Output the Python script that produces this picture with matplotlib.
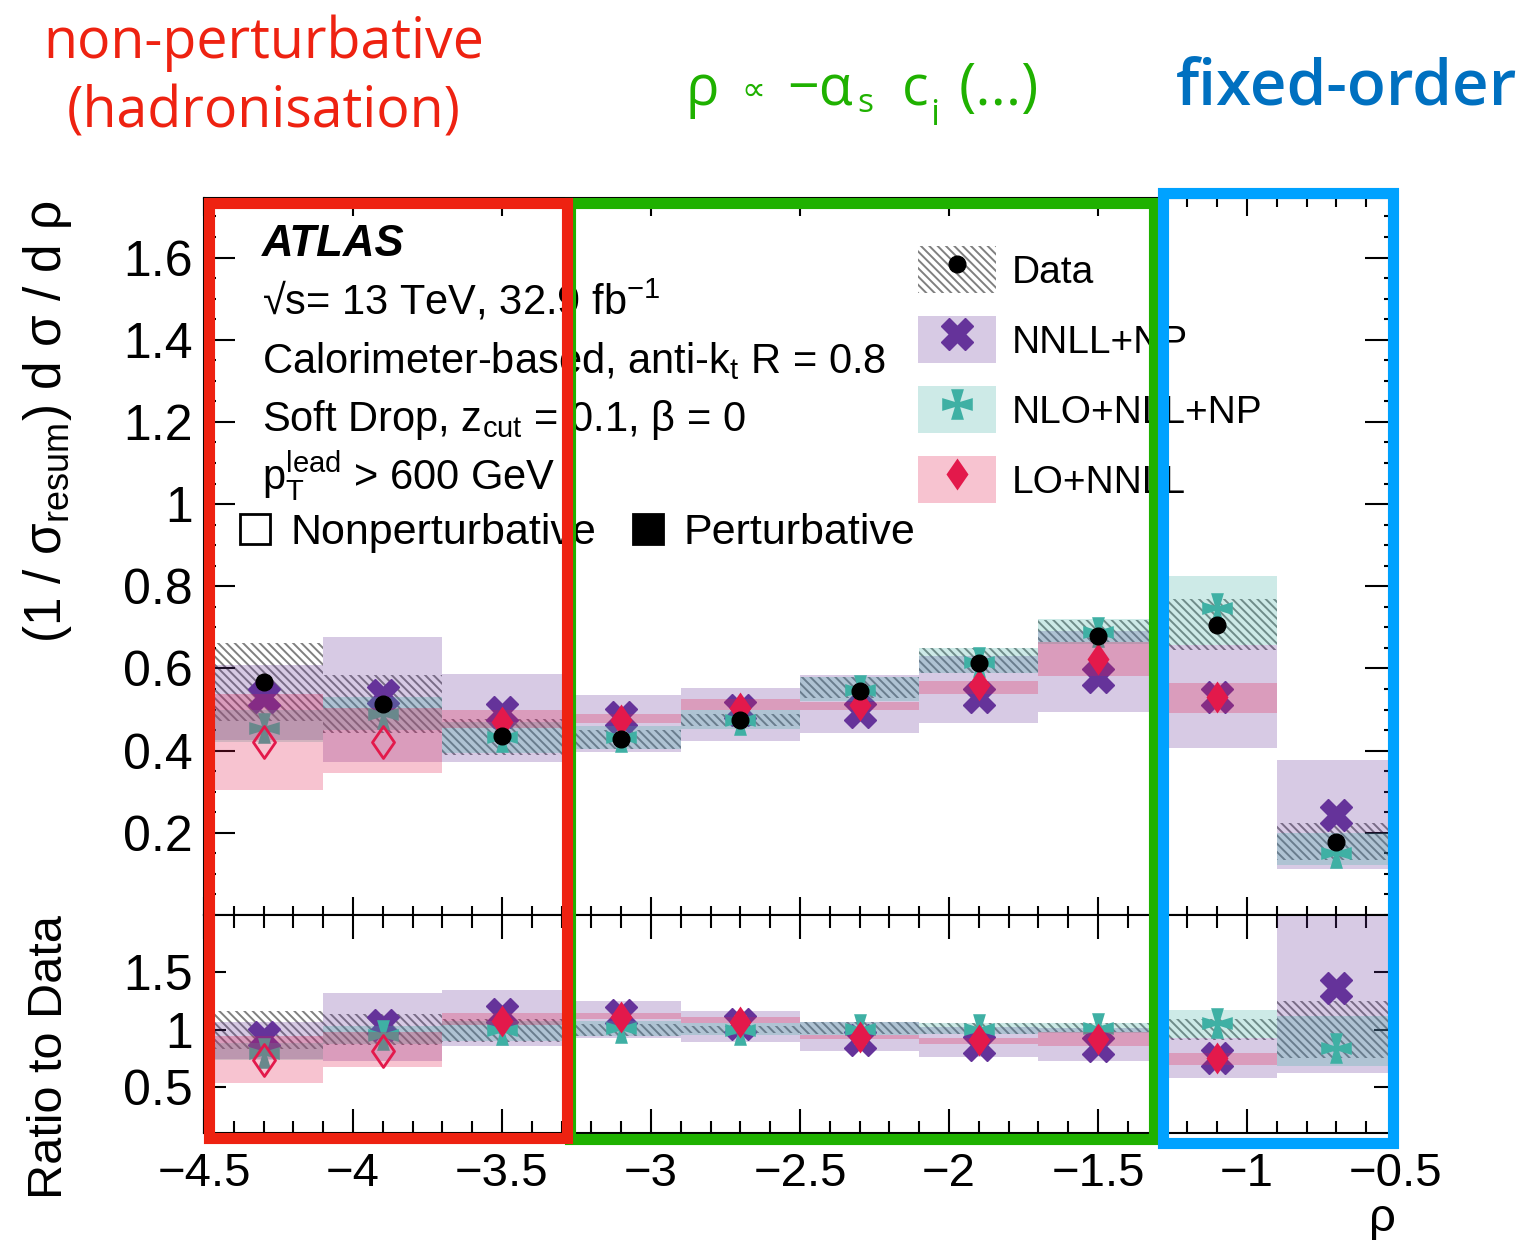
import numpy as np
import matplotlib
matplotlib.use('Agg')
import matplotlib.pyplot as plt
from matplotlib.patches import Patch, Rectangle
from matplotlib.lines import Line2D
from matplotlib.path import Path
from matplotlib.ticker import MultipleLocator, FuncFormatter

plt.rcParams['font.family'] = ['Liberation Sans', 'DejaVu Sans']
plt.rcParams['mathtext.fontset'] = 'custom'
plt.rcParams['mathtext.rm'] = 'Liberation Sans'
plt.rcParams['mathtext.it'] = 'Liberation Sans:italic'
plt.rcParams['mathtext.bf'] = 'Liberation Sans:bold'
plt.rcParams['hatch.linewidth'] = 1.4

# rho bins and measured / predicted (1/sigma) dsigma/drho
edges = [-4.5, -4.1, -3.7, -3.3, -2.9, -2.5, -2.1, -1.7, -1.3, -0.9, -0.5]

data    = [0.568, 0.513, 0.436, 0.428, 0.474, 0.545, 0.614, 0.679, 0.706, 0.178]
data_lo = [0.473, 0.443, 0.390, 0.405, 0.460, 0.527, 0.589, 0.665, 0.645, 0.134]
data_hi = [0.663, 0.584, 0.478, 0.450, 0.488, 0.580, 0.649, 0.718, 0.770, 0.223]

nnll    = [0.530, 0.535, 0.495, 0.482, 0.499, 0.495, 0.531, 0.580, 0.530, 0.243]
nnll_lo = [0.425, 0.373, 0.373, 0.397, 0.424, 0.444, 0.468, 0.495, 0.406, 0.111]
nnll_hi = [0.608, 0.676, 0.586, 0.535, 0.552, 0.584, 0.630, 0.690, 0.657, 0.377]

nlo    = [0.455, 0.490, 0.434, 0.434, 0.474, 0.547, 0.616, 0.689, 0.746, 0.150]
nlo_lo = [0.420, 0.450, 0.395, 0.405, 0.452, 0.520, 0.590, 0.660, 0.657, 0.122]
nlo_hi = [0.500, 0.530, 0.470, 0.460, 0.500, 0.580, 0.650, 0.720, 0.825, 0.200]

lo    = [0.420, 0.420, 0.470, 0.474, 0.505, 0.511, 0.560, 0.624, 0.530, np.nan]
lo_lo = [0.304, 0.345, 0.455, 0.468, 0.500, 0.499, 0.539, 0.582, 0.492, np.nan]
lo_hi = [0.539, 0.505, 0.500, 0.490, 0.525, 0.518, 0.570, 0.665, 0.565, np.nan]

# bins where LO+NNLL has no hadronisation correction (open markers)
nonpert = [True, True, False, False, False, False, False, False, False, False]

purple = '#65339a'
teal = '#3fb0a4'
crimson = '#e3194b'
hatch_grey = '#808080'
hatch = '\\\\\\\\'
band_alpha = 0.26

W, H = 1527, 1240


def fx(px):
    return px / W


def fy(py):
    return 1 - py / H


# ROOT-like "open cross" marker: four arms widening outwards
a, c = 0.42, 0.17
star = Path([(-a, 1), (a, 1), (c, c), (1, a), (1, -a), (c, -c), (a, -1),
             (-a, -1), (-c, -c), (-1, -a), (-1, a), (-c, c), (-a, 1)],
            closed=True)
diamond = Path([(0, 1), (0.69, 0), (0, -1), (-0.69, 0), (0, 1)], closed=True)

edges = np.array(edges)
centers = 0.5 * (edges[:-1] + edges[1:])
width = np.diff(edges)
data = np.array(data)
nonpert = np.array(nonpert)

fig = plt.figure(figsize=(W / 100, H / 100), dpi=100)
ax = fig.add_axes([fx(204), fy(915), fx(1396) - fx(204), fy(198) - fy(915)])
rax = fig.add_axes([fx(204), fy(1133), fx(1396) - fx(204), fy(915) - fy(1133)])


def draw(axis, scale):
    s = np.asarray(scale)
    axis.bar(centers, (np.array(data_hi) - data_lo) / s, bottom=np.array(data_lo) / s,
             width=width, facecolor='none', edgecolor=hatch_grey, hatch=hatch,
             lw=0, zorder=1)
    axis.bar(centers, (np.array(nnll_hi) - nnll_lo) / s, bottom=np.array(nnll_lo) / s,
             width=width, color=purple, alpha=band_alpha, lw=0, zorder=2)
    axis.plot(centers, np.array(nnll) / s, ls='none', marker='X', ms=23,
              mfc=purple, mec=purple, zorder=3)
    axis.bar(centers, (np.array(nlo_hi) - nlo_lo) / s, bottom=np.array(nlo_lo) / s,
             width=width, color=teal, alpha=band_alpha, lw=0, zorder=4)
    axis.plot(centers, np.array(nlo) / s, ls='none', marker=star, ms=22,
              mfc=teal, mec=teal, mew=0, zorder=5)
    axis.bar(centers, (np.array(lo_hi) - lo_lo) / s, bottom=np.array(lo_lo) / s,
             width=width, color=crimson, alpha=band_alpha, lw=0, zorder=6)
    lo_s = np.array(lo) / s
    axis.plot(centers[nonpert], lo_s[nonpert], ls='none', marker=diamond, ms=23,
              mfc='none', mec=crimson, mew=2, zorder=7)
    axis.plot(centers[~nonpert], lo_s[~nonpert], ls='none', marker=diamond, ms=23,
              mfc=crimson, mec=crimson, mew=0, zorder=7)


draw(ax, np.ones_like(data))
ax.plot(centers, data, ls='none', marker='o', ms=12, color='black', zorder=8)

draw(rax, data)

for axis in (ax, rax):
    axis.set_xlim(-4.5, -0.5)
    axis.xaxis.set_major_locator(MultipleLocator(0.5))
    axis.xaxis.set_minor_locator(MultipleLocator(0.1))
    for sp in axis.spines.values():
        sp.set_linewidth(1.5)
    axis.tick_params(which='both', direction='in', top=True, right=True,
                     width=1.5)

ax.set_ylim(0, 1.745)
ax.set_yticks([0.2, 0.4, 0.6, 0.8, 1.0, 1.2, 1.4, 1.6])
ax.yaxis.set_minor_locator(MultipleLocator(0.05))
ax.tick_params(axis='x', which='major', length=13, labelbottom=False)
ax.tick_params(axis='x', which='minor', length=6.5)
ax.tick_params(axis='y', which='major', length=22, pad=8, labelsize=36)
ax.tick_params(axis='y', which='minor', length=8.5)

rax.set_ylim(0.1, 2.0)
rax.set_yticks([0.5, 1.0, 1.5])
rax.yaxis.set_minor_locator(MultipleLocator(0.1))
rax.tick_params(axis='x', which='major', length=17, pad=14, labelsize=34)
rax.tick_params(axis='x', which='minor', length=9)
rax.tick_params(axis='y', which='major', length=16, pad=8, labelsize=36)
rax.tick_params(axis='y', which='minor', length=4.5)

fmt = FuncFormatter(lambda v, _: ('%g' % v).replace('-', '\u2212'))
ax.yaxis.set_major_formatter(fmt)
rax.yaxis.set_major_formatter(fmt)
rax.xaxis.set_major_formatter(fmt)

# axis titles
fig.text(fx(48), fy(200), r'(1 / σ$_{\mathregular{resum}}$) d σ / d ρ',
         rotation=90, ha='center', va='top', fontsize=37)
fig.text(fx(50), fy(915), 'Ratio to Data', rotation=90, ha='center',
         va='top', fontsize=35)
fig.text(fx(1396), fy(1231), 'ρ', ha='right', va='baseline', fontsize=34)

# ATLAS label block
fig.text(fx(262), fy(256), 'ATLAS', fontsize=31.5, fontweight='bold',
         fontstyle='italic', va='baseline')
info = [r'√s= 13 TeV, 32.9 fb$^{\mathregular{-1}}$',
        r'Calorimeter-based, anti-k$_{\mathregular{t}}$ R = 0.8',
        r'Soft Drop, z$_{\mathregular{cut}}$ = 0.1, β = 0',
        r'p$_{\mathregular{T}}^{\mathregular{lead}}$ > 600 GeV']
for i, line in enumerate(info):
    fig.text(fx(262), fy(315 + 58 * i), line, fontsize=30, va='baseline')

# legend
handles = [
    (Patch(facecolor='none', edgecolor=hatch_grey, hatch=hatch, lw=0),
     Line2D([], [], ls='none', marker='o', ms=12, color='black')),
    (Patch(facecolor=purple, alpha=band_alpha, lw=0),
     Line2D([], [], ls='none', marker='X', ms=23, color=purple)),
    (Patch(facecolor=teal, alpha=band_alpha, lw=0),
     Line2D([], [], ls='none', marker=star, ms=22, color=teal, mew=0)),
    (Patch(facecolor=crimson, alpha=band_alpha, lw=0),
     Line2D([], [], ls='none', marker=diamond, ms=23, color=crimson, mew=0)),
]
labels = ['Data', 'NNLL+NP', 'NLO+NLL+NP', 'LO+NNLL']
leg = ax.legend(handles, labels, loc='upper left',
                bbox_to_anchor=(fx(918), fy(246)), bbox_transform=fig.transFigure,
                frameon=False, fontsize=28, borderpad=0, borderaxespad=0,
                handlelength=2.0, handleheight=1.5, handletextpad=0.4,
                labelspacing=0.58)
ax.add_artist(leg)

kinds = [Line2D([], [], ls='none', marker='s', ms=22, mfc='white', mec='black', mew=2),
         Line2D([], [], ls='none', marker='s', ms=22, mfc='black', mec='black', mew=2)]
ax.legend(kinds, ['Nonperturbative', 'Perturbative'], loc='upper left',
          bbox_to_anchor=(fx(237), fy(513)), bbox_transform=fig.transFigure,
          frameon=False, fontsize=31, ncol=2, borderpad=0, borderaxespad=0,
          handlelength=0.82, handletextpad=0.42, columnspacing=0.78)

# regime boxes
red = '#ee2211'
green = '#1fb100'
blue = '#00a2ff'
for (x0, y0, x1, y1), col in [((570, 203, 1154, 1139), green),
                              ((1163, 193, 1393, 1143), blue),
                              ((209, 203, 567, 1138), red)]:
    fig.add_artist(Rectangle((fx(x0), fy(y1)), fx(x1) - fx(x0), fy(y0) - fy(y1),
                             transform=fig.transFigure, fill=False, ec=col,
                             lw=8, joinstyle='miter', zorder=20))

# regime titles
top = dict(family=['Open Sans', 'DejaVu Sans'], va='baseline')
fig.text(fx(264), fy(58), 'non-perturbative', ha='center', fontsize=40,
         color=red, **top)
fig.text(fx(264), fy(128), '(hadronisation)', ha='center', fontsize=40,
         color=red, **top)
fig.text(fx(686), fy(105), 'ρ', fontsize=40, color=green, **top)
fig.text(fx(741), fy(100), '∝', fontsize=24, color=green, **top)
fig.text(fx(787), fy(105), '−α', fontsize=40, color=green, **top)
fig.text(fx(857), fy(112), 's', fontsize=24, color=green, **top)
fig.text(fx(902), fy(105), 'c', fontsize=40, color=green, **top)
fig.text(fx(930), fy(125), 'i', fontsize=26, color=green, **top)
fig.text(fx(959), fy(105), '(...)', fontsize=42, color=green, **top)
fig.text(fx(1176), fy(105), 'fixed-order', fontsize=46, fontweight='semibold',
         color='#0070c0', **top)

fig.savefig('out.png', dpi=100)
